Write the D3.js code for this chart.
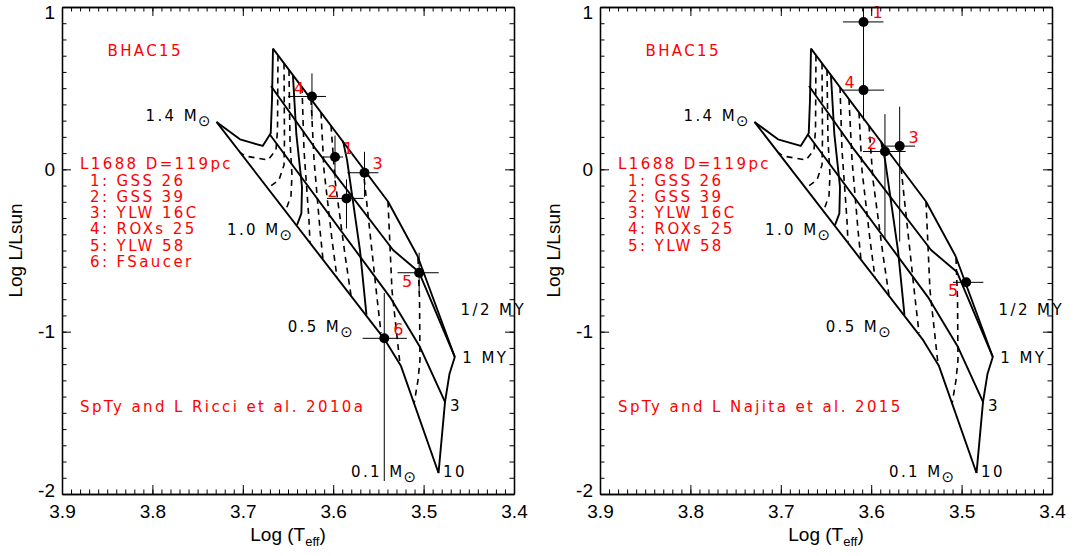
<!DOCTYPE html>
<html>
<head>
<meta charset="UTF-8">
<title>BHAC15 HR diagrams - L1688</title>
<style>
  body { margin: 0; background: #fff; }
  svg { display: block; }
  .tick text, .axis-title { font-family: "Liberation Sans", Arial, sans-serif; font-size: 19px; fill: #000; }
  .note { font-family: "DejaVu Sans", sans-serif; font-size: 15px; letter-spacing: 2.4px; }
</style>
</head>
<body>
<svg width="1076" height="556"></svg>
<script src="https://d3js.org/d3.v7.min.js"></script>
<script>
// axis ticks
const xTicks = [3.9, 3.8, 3.7, 3.6, 3.5, 3.4];
const yTicks = [1, 0, -1, -2];

// BHAC15 isochrones [logT, logL]
const iso05 = [[3.6666, 0.744], [3.5394, -0.198], [3.5067, -0.534]];
const iso1 = [[3.6688, 0.513], [3.6201, 0.131], [3.5338, -0.497], [3.5051, -0.633], [3.4655, -1.156]];
const iso3 = [[3.6705, 0.218], [3.5372, -0.787], [3.5040, -1.095], [3.4763, -1.433]];
const iso10 = [[3.7291, 0.292], [3.5427, -1.051], [3.5250, -1.212], [3.4835, -1.871]];

// solid mass tracks
const track14 = [[3.6666, 0.744], [3.6677, 0.427], [3.6691, 0.222], [3.6780, 0.144], [3.7031, 0.185], [3.7291, 0.292]];
const track10 = [[3.6445, 0.575], [3.6408, 0.219], [3.6345, -0.108], [3.6352, -0.271], [3.6400, -0.343]];
const track05 = [[3.5892, 0.175], [3.5847, 0.058], [3.5704, -0.497], [3.5632, -0.897]];
const track01 = [[3.5067, -0.534], [3.5018, -0.608], [3.4655, -1.156], [3.4714, -1.261], [3.4763, -1.433], [3.4835, -1.871]];

// dashed intermediate tracks
const track13 = [[3.6611, 0.701], [3.6616, 0.242], [3.6633, 0.119], [3.6721, 0.058], [3.6976, 0.082], [3.7031, 0.104]];
const track12 = [[3.6544, 0.652], [3.6539, 0.181], [3.6544, 0.027], [3.6600, -0.066], [3.6721, -0.115]];
const track11 = [[3.6489, 0.612], [3.6478, 0.181], [3.6456, -0.035], [3.6467, -0.164], [3.6528, -0.257]];
const track09 = [[3.6345, 0.507], [3.6323, 0.119], [3.6268, -0.312], [3.6257, -0.451]];
const track08 = [[3.6246, 0.433], [3.6212, 0.058], [3.6146, -0.374], [3.6113, -0.556]];
const track07 = [[3.6135, 0.350], [3.6102, -0.004], [3.6013, -0.435], [3.5958, -0.666]];
const track06 = [[3.6024, 0.269], [3.5980, -0.066], [3.5869, -0.528], [3.5803, -0.778]];
const track04 = [[3.5670, 0.008], [3.5593, -0.392], [3.5515, -0.793], [3.5471, -1.008]];
const track03 = [[3.5394, -0.198], [3.5350, -0.743], [3.5272, -1.144], [3.5261, -1.199]];
const track02 = [[3.5062, -0.546], [3.5045, -0.805], [3.5040, -1.175], [3.5062, -1.298], [3.5106, -1.446]];

const solidLines = [iso05, iso1, iso3, iso10, track14, track10, track05, track01];
const dashedLines = [track13, track12, track11, track09, track08, track07, track06, track04, track03, track02];

// stars, Ricci et al. 2010a
const ricciIds = ["1", "2", "3", "4", "5", "6"];
const ricciLogT = [3.598, 3.5853, 3.5654, 3.6235, 3.5049, 3.5435];
const ricciLogL = [0.076, -0.179, -0.021, 0.449, -0.637, -1.041];
const ricciTHot = [0.013, 0.0216, 0.019, 0.0265, 0.024, 0.024];
const ricciTCool = [0.009, 0.0188, 0.0155, 0.0155, 0.0216, 0.025];
const ricciLUp = [0.132, 0.117, 0.129, 0.142, 0.123, 0.279];
const ricciLDown = [0.132, 0.185, 0.148, 0.142, 0.123, 0.879];

// stars, Najita et al. 2015
const najitaIds = ["1", "2", "3", "4", "5"];
const najitaLogT = [3.6085, 3.5848, 3.5685, 3.6085, 3.4949];
const najitaLogL = [0.908, 0.110, 0.143, 0.488, -0.696];
const najitaTHot = [0.0228, 0.0243, 0.0209, 0.0228, 0.0146];
const najitaTCool = [0.0221, 0.0229, 0.0171, 0.0228, 0.019];
const najitaLUp = [0.2, 0.23, 0.243, 0.187, 0];
const najitaLDown = [0.25, 0.545, 0.588, 0.187, 0];

const ricciNames = ["1: GSS 26", "2: GSS 39", "3: YLW 16C", "4: ROXs 25", "5: YLW 58", "6: FSaucer"];
const najitaNames = ["1: GSS 26", "2: GSS 39", "3: YLW 16C", "4: ROXs 25", "5: YLW 58"];

// black labels on the grid [text, logT, logL]
const massLabels = [["1.4 M", 3.8077, 0.295], ["1.0 M", 3.7175, -0.4045], ["0.5 M", 3.6504, -1.005], ["0.1 M", 3.5803, -1.893]];
const ageLabels = [["1/2 MY", 3.4591, -0.899], ["1 MY", 3.4572, -1.195], ["3", 3.4708, -1.491], ["10", 3.4785, -1.893]];

const svg = d3.select("svg");
const W = 452, TOP = 7, BOTTOM = 494;

function makePanel(p) {
  const x = d3.scaleLinear().domain([3.9, 3.4]).range([p.left, p.left + W]);
  const y = d3.scaleLinear().domain([-2, 1]).range([BOTTOM, TOP]);
  const g = svg.append("g");

  const clipId = "clip" + p.left;
  svg.append("clipPath").attr("id", clipId).append("rect")
      .attr("x", p.left).attr("y", TOP).attr("width", W).attr("height", BOTTOM - TOP);
  const plot = g.append("g").attr("clip-path", `url(#${clipId})`);

  const line = d3.line().x(d => x(d[0])).y(d => y(d[1]));
  plot.selectAll("path.solid").data(solidLines).join("path")
      .attr("class", "solid").attr("d", line)
      .attr("fill", "none").attr("stroke", "#000").attr("stroke-width", 1.9)
      .attr("stroke-linejoin", "round");
  plot.selectAll("path.dashed").data(dashedLines).join("path")
      .attr("class", "dashed").attr("d", line)
      .attr("fill", "none").attr("stroke", "#000").attr("stroke-width", 1.6)
      .attr("stroke-dasharray", "6,5");

  // error bars and points
  const stars = p.ids.map((id, i) => ({
    id, t: p.logT[i], l: p.logL[i],
    tHot: p.tHot[i], tCool: p.tCool[i], up: p.lUp[i], down: p.lDown[i]
  }));
  const bars = plot.append("g").attr("stroke", "#000").attr("stroke-width", 1);
  bars.selectAll("line.h").data(stars).join("line").attr("class", "h")
      .attr("x1", d => x(d.t + d.tHot)).attr("x2", d => x(d.t - d.tCool))
      .attr("y1", d => y(d.l)).attr("y2", d => y(d.l));
  bars.selectAll("line.v").data(stars.filter(d => d.up + d.down > 0)).join("line").attr("class", "v")
      .attr("x1", d => x(d.t)).attr("x2", d => x(d.t))
      .attr("y1", d => y(d.l + d.up)).attr("y2", d => y(d.l - d.down));
  plot.selectAll("circle").data(stars).join("circle")
      .attr("cx", d => x(d.t)).attr("cy", d => y(d.l)).attr("r", 5).attr("fill", "#000");
  g.selectAll("text.id").data(stars).join("text").attr("class", "note id")
      .attr("x", d => x(d.t) + p.offsets[d.id][0])
      .attr("y", d => y(d.l) + p.offsets[d.id][1])
      .attr("text-anchor", "middle").attr("dominant-baseline", "central")
      .attr("fill", "red").style("letter-spacing", "0px").style("font-size", "16px")
      .text(d => d.id);

  // annotations
  const note = (txt, t, l, color) => g.append("text").attr("class", "note")
      .attr("x", x(t)).attr("y", y(l)).attr("fill", color).text(txt);
  note("BHAC15", 3.8497, 0.697, "red");
  note("L1688 D=119pc", 3.8801, -0.001, "red");
  p.names.forEach((n, i) => note(n, 3.869, -0.1 * (i + 1), "red"));
  note(p.source, 3.8801, -1.495, "red");
  massLabels.forEach(m => {
    const t = note(m[0], m[1], m[2], "#000");
    t.append("tspan").attr("dy", 5).attr("dx", -1).style("font-size", "15px").style("letter-spacing", "0px").text("\u2299");
  });
  ageLabels.forEach(a => note(a[0], a[1], a[2], "#000"));

  // axes: major & minor ticks pointing inward on all four sides
  const xMinor = d3.range(0, 51).map(i => 3.4 + i * 0.01);
  const yMinor = d3.range(0, 31).map(i => -2 + i * 0.1);
  const axisStyle = sel => {
    sel.select(".domain").attr("stroke", "#000").attr("stroke-width", 1.3);
    sel.selectAll(".tick line").attr("stroke", "#000").attr("stroke-width", 1);
  };
  g.append("g").attr("transform", `translate(0,${BOTTOM})`)
      .call(d3.axisBottom(x).tickValues(xMinor).tickSize(-4.5).tickSizeOuter(0).tickFormat(""))
      .call(axisStyle);
  g.append("g").attr("transform", `translate(0,${BOTTOM})`)
      .call(d3.axisBottom(x).tickValues(xTicks).tickSize(-9).tickSizeOuter(0).tickPadding(11)
        .tickFormat(d3.format(".1f")))
      .call(axisStyle)
      .call(a => a.selectAll(".tick text").style("font-family", "'Liberation Sans', Arial, sans-serif").style("font-size", "19px"));
  g.append("g").attr("transform", `translate(0,${TOP})`)
      .call(d3.axisTop(x).tickValues(xMinor).tickSize(-4.5).tickSizeOuter(0).tickFormat(""))
      .call(axisStyle);
  g.append("g").attr("transform", `translate(0,${TOP})`)
      .call(d3.axisTop(x).tickValues(xTicks).tickSize(-9).tickSizeOuter(0).tickFormat(""))
      .call(axisStyle);
  g.append("g").attr("transform", `translate(${p.left},0)`)
      .call(d3.axisLeft(y).tickValues(yMinor).tickSize(-4.5).tickSizeOuter(0).tickFormat(""))
      .call(axisStyle);
  g.append("g").attr("transform", `translate(${p.left},0)`)
      .call(d3.axisLeft(y).tickValues(yTicks).tickSize(-9).tickSizeOuter(0).tickPadding(7)
        .tickFormat(d => String(d)))
      .call(axisStyle)
      .call(a => a.selectAll(".tick text")
        .style("font-family", "'Liberation Sans', Arial, sans-serif").style("font-size", "19px")
        .attr("dy", d => d === 1 ? "0.62em" : d === -2 ? "0.15em" : "0.32em"));
  g.append("g").attr("transform", `translate(${p.left + W},0)`)
      .call(d3.axisRight(y).tickValues(yMinor).tickSize(-4.5).tickSizeOuter(0).tickFormat(""))
      .call(axisStyle);
  g.append("g").attr("transform", `translate(${p.left + W},0)`)
      .call(d3.axisRight(y).tickValues(yTicks).tickSize(-9).tickSizeOuter(0).tickFormat(""))
      .call(axisStyle);

  // axis titles
  const xt = g.append("text").attr("class", "axis-title")
      .attr("x", p.left + W / 2).attr("y", 541).attr("text-anchor", "middle");
  xt.append("tspan").text("Log (T");
  xt.append("tspan").attr("dy", 5).style("font-size", "13px").text("eff");
  xt.append("tspan").attr("dy", -5).text(")");
  g.append("text").attr("class", "axis-title")
      .attr("transform", `translate(${p.left - 40},${(TOP + BOTTOM) / 2}) rotate(-90)`)
      .attr("text-anchor", "middle").text("Log L/Lsun");
}

makePanel({
  left: 62, ids: ricciIds, logT: ricciLogT, logL: ricciLogL,
  tHot: ricciTHot, tCool: ricciTCool, lUp: ricciLUp, lDown: ricciLDown,
  names: ricciNames, source: "SpTy and L Ricci et al. 2010a",
  offsets: {"1": [13, -8], "2": [-14, -7], "3": [13, -9], "4": [-13, -8], "5": [-12, 9], "6": [14, -9]}
});
makePanel({
  left: 600, ids: najitaIds, logT: najitaLogT, logL: najitaLogL,
  tHot: najitaTHot, tCool: najitaTCool, lUp: najitaLUp, lDown: najitaLDown,
  names: najitaNames, source: "SpTy and L Najita et al. 2015",
  offsets: {"1": [14, -9], "2": [-13, -8], "3": [14, -9], "4": [-14, -8], "5": [-13, 8]}
});
</script>
</body>
</html>
